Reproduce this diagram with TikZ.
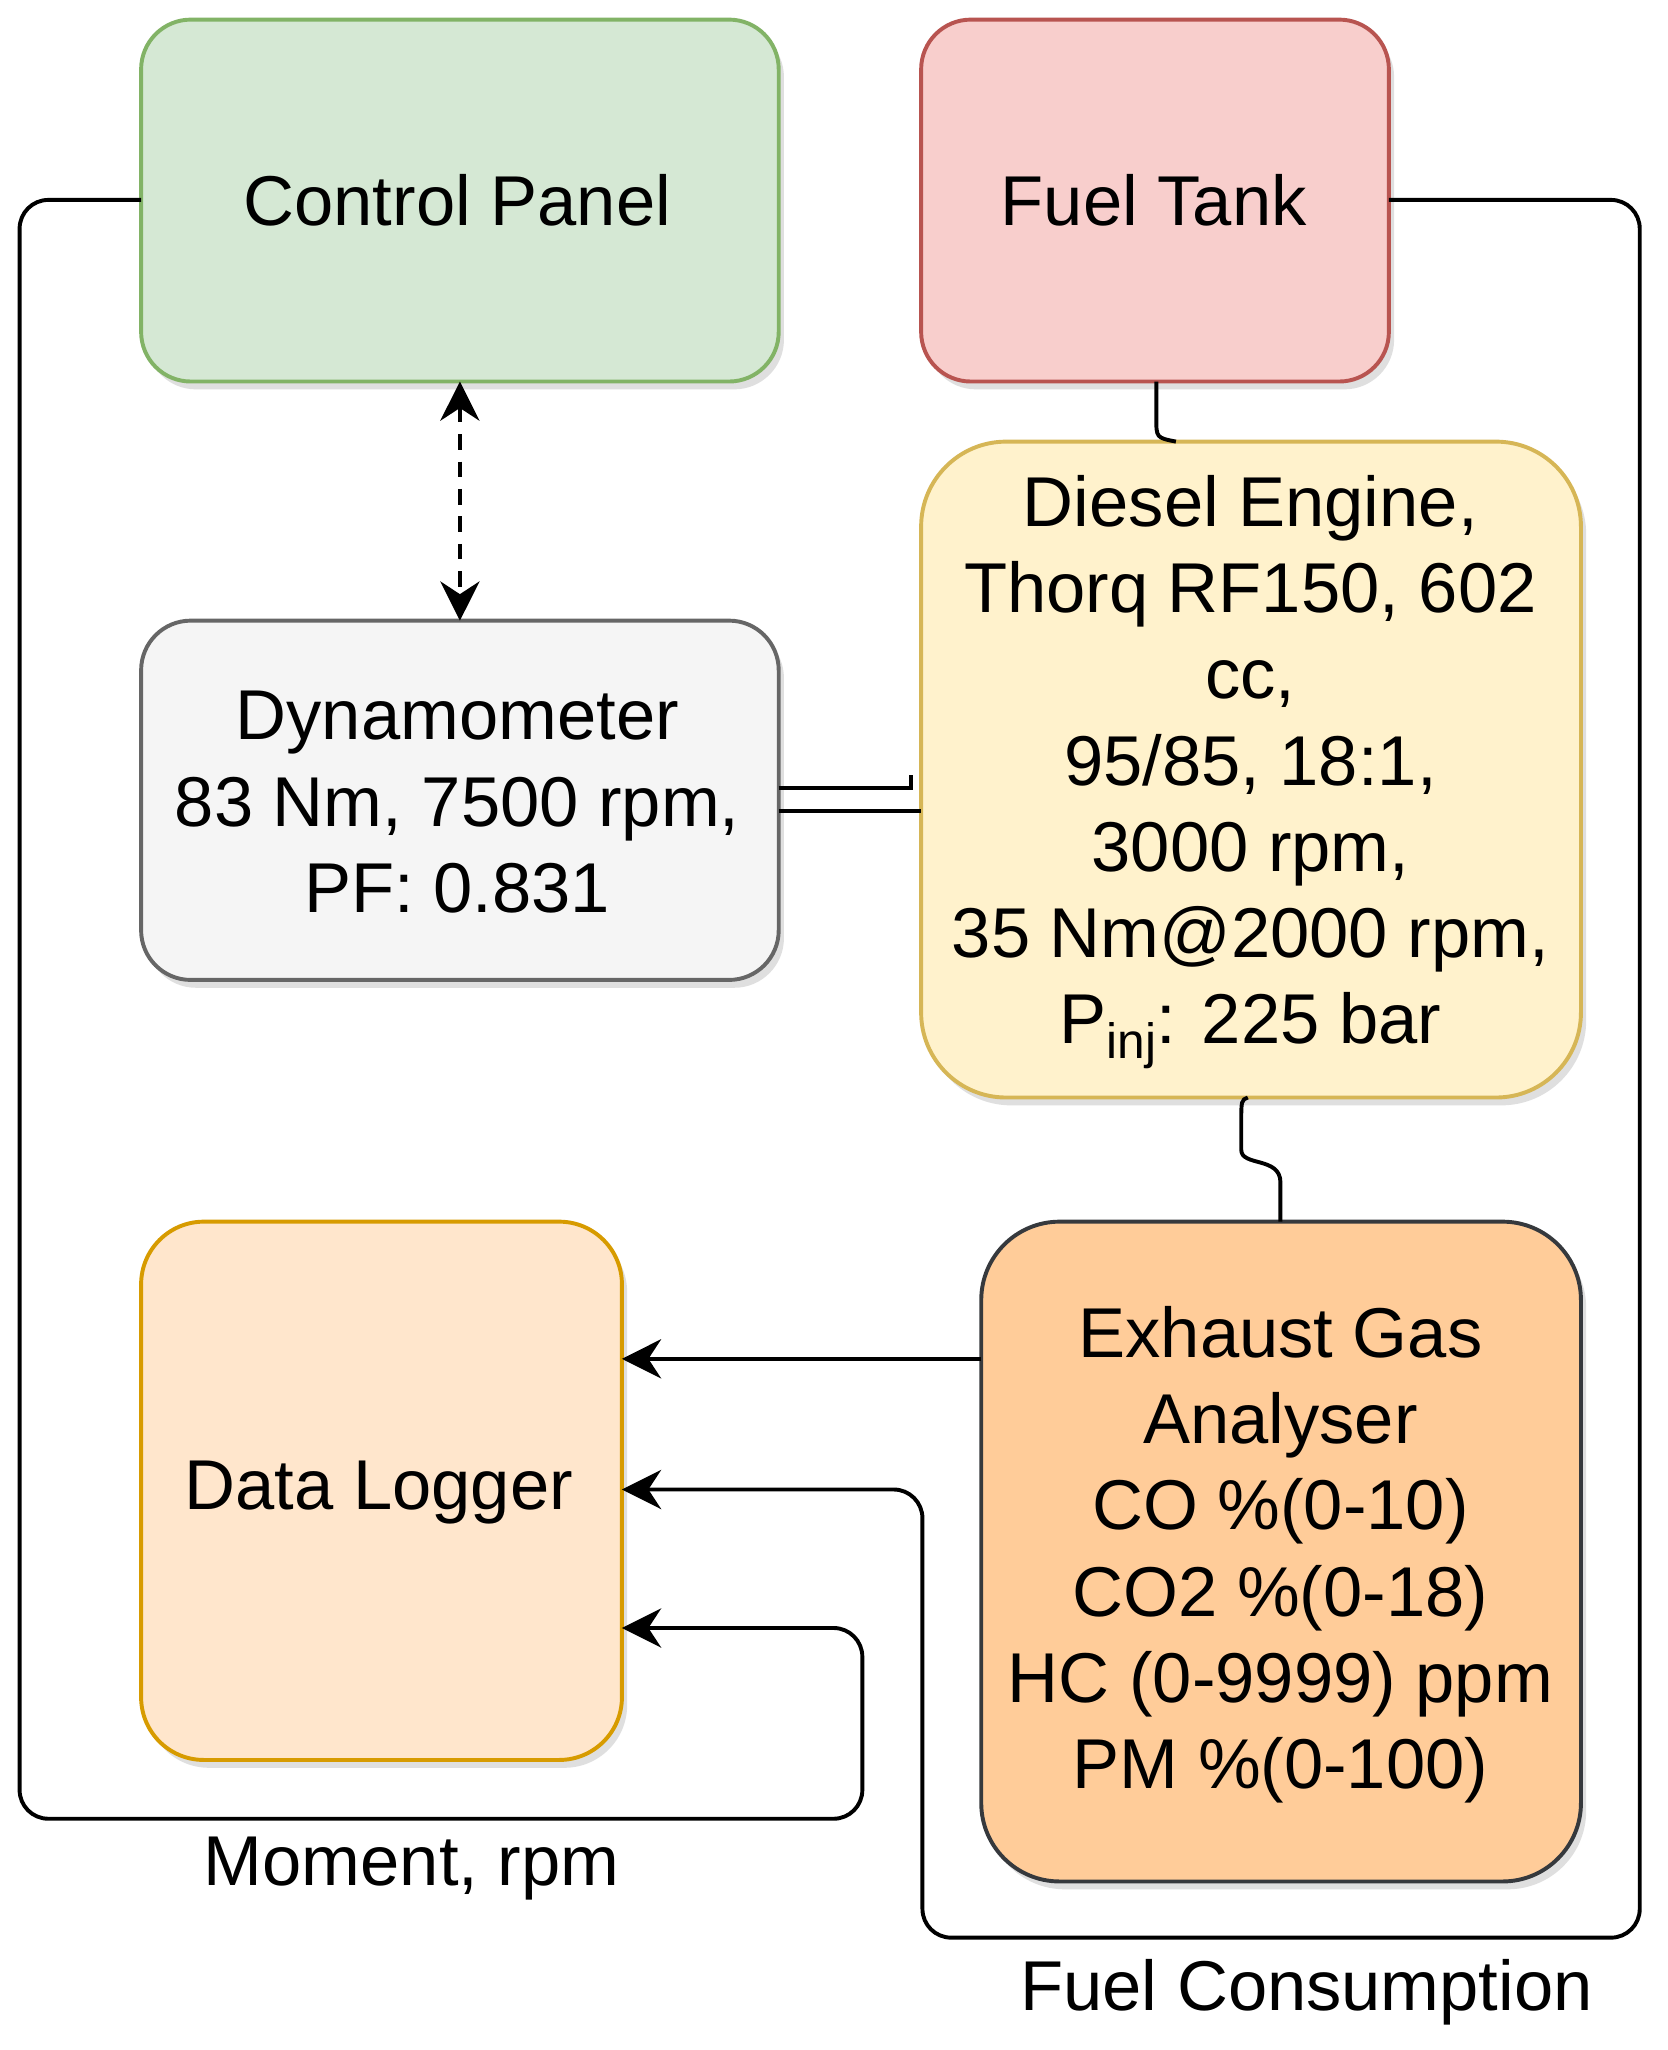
\documentclass[tikz,border=0pt]{standalone}
\usepackage{fontspec}
\setmainfont{Liberation Sans}
\usetikzlibrary{shadows,arrows.meta}
\definecolor{cpF}{HTML}{D5E8D4}\definecolor{cpS}{HTML}{82B366}
\definecolor{ftF}{HTML}{F8CECC}\definecolor{ftS}{HTML}{B85450}
\definecolor{deF}{HTML}{FFF2CC}\definecolor{deS}{HTML}{D6B656}
\definecolor{dyF}{HTML}{F5F5F5}\definecolor{dyS}{HTML}{666666}
\definecolor{dlF}{HTML}{FFE6CC}\definecolor{dlS}{HTML}{D79B00}
\definecolor{exF}{HTML}{FFCC99}\definecolor{exS}{HTML}{36393D}
\tikzset{
 box/.style={rounded corners=38pt,line width=3pt,drop shadow={shadow xshift=4pt,shadow yshift=-6pt,opacity=0.25}},
 txt/.style={align=center,font=\fontsize{54}{66}\selectfont,inner sep=0pt},
 wire/.style={line width=3pt,rounded corners=22pt},
 arr/.style={wire,-{Stealth[length=30pt,width=30pt]}}
}
\begin{document}
\begin{tikzpicture}[x=1pt,y=-1pt]
\useasboundingbox (0,0) rectangle (1276,1569);
\fill[white] (0,0) rectangle (1276,1569);
\draw[box,fill=cpF,draw=cpS] (108,15) rectangle (596,292);
\draw[box,fill=ftF,draw=ftS] (705,15) rectangle (1063,292);
\draw[box,fill=deF,draw=deS,rounded corners=65pt] (705,338) rectangle (1210,840);
\draw[box,fill=dyF,draw=dyS] (108,475) rectangle (596,750);
\draw[box,fill=dlF,draw=dlS,rounded corners=48pt] (108,935) rectangle (476,1347);
\draw[box,fill=exF,draw=exS,rounded corners=60pt] (751,935) rectangle (1210,1440);
\node[txt] (cp) at (350,153) {Control Panel};
\node[txt] (ft) at (883,153) {Fuel Tank};
\node[txt] (de) at (957,591) {Diesel Engine,\\Thorq RF150, 602\\cc,\\95/85, 18:1,\\3000 rpm,\\35 Nm@2000 rpm,\\P\raisebox{-0.4ex}{\fontsize{38}{38}\selectfont inj}: 225 bar};
\node[txt] (dy) at (350,614) {Dynamometer\\83 Nm, 7500 rpm,\\PF: 0.831};
\node[txt] (dl) at (290,1142) {Data Logger};
\node[txt] (ex) at (980,1190) {Exhaust Gas\\Analyser\\CO \%(0-10)\\CO2 \%(0-18)\\HC (0-9999) ppm\\PM \%(0-100)};
\node[txt] (m) at (315,1430) {Moment, rpm};
\node[txt] (f) at (1000,1525) {Fuel Consumption};
\coordinate (cpL) at (108,153);\coordinate (dl3) at (476,1246);
\draw[arr] (cpL) -- (15,153) -- (15,1392) -- (660,1392) -- (660,1246) -- (dl3);
\coordinate (ftR) at (1063,153);\coordinate (dl2) at (476,1140);
\draw[arr] (ftR) -- (1255,153) -- (1255,1483) -- (706,1483) -- (706,1140) -- (dl2);
\coordinate (exL) at (751,1040);\coordinate (dl1) at (476,1040);
\draw[arr] (exL) -- (dl1);
\coordinate (cpB) at (352,292);\coordinate (dyT) at (352,475);
\draw[line width=3pt,dash pattern=on 12pt off 9pt,{Stealth[length=30pt,width=30pt]}-{Stealth[length=30pt,width=30pt]}] (cpB) -- (dyT);
\coordinate (ftB) at (885,292);\coordinate (deT) at (900,338);
\draw[line width=3pt] (ftB) -- (885,320) .. controls (885,335) .. (deT);
\coordinate (deB) at (955,840);\coordinate (exT) at (980,935);
\draw[line width=3pt] (deB) .. controls (950,842) .. (950,860) -- (950,880) .. controls (950,893) and (980,885) .. (980,905) -- (exT);
\coordinate (dyR1) at (596,603);\coordinate (dyR2) at (596,621);\coordinate (deL) at (705,621);
\draw[line width=3pt] (dyR1) -- (697,603) -- (697,593);
\draw[line width=3pt] (dyR2) -- (deL);
\end{tikzpicture}
\end{document}
